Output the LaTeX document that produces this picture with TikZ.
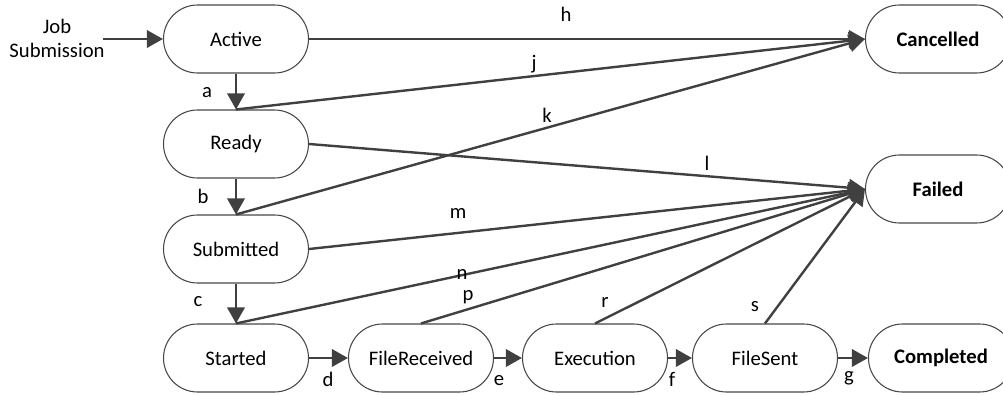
\documentclass[tikz,border=0pt]{standalone}
\usepackage{fontspec}
\setmainfont{Carlito}
\usetikzlibrary{arrows.meta}

\tikzset{
  stato/.style={draw=black!72, line width=0.8pt, rectangle, rounded corners=25.5pt,
    minimum width=108.75pt, minimum height=51pt, font=\fontsize{15.5}{18}\selectfont},
  finale/.style={stato, font=\fontsize{15.5}{18}\selectfont\bfseries},
  freccia/.style={draw=black!75, line width=1.8pt, -{Triangle[length=12pt,width=13pt]}},
  lbl/.style={inner sep=0pt, font=\fontsize{15.5}{18}\selectfont}
}

\begin{document}
\begin{tikzpicture}[x=0.75pt, y=-0.75pt]
    \useasboundingbox (0,0) rectangle (1003,396);

    % Stati
    \node[stato] (Active) at (236,39) {Active};
    \node[stato] (Ready) at (236,144) {Ready};
    \node[stato] (Submitted) at (236,249) {Submitted};
    \node[stato] (Started) at (236,358) {Started};
    \node[stato] (FileReceived) at (421,358) {FileReceived};
    \node[stato] (Execution) at (595,358) {Execution};
    \node[stato] (FileSent) at (765,358) {FileSent};

    % Stati finali
    \node[finale] (Cancelled) at (938,39) {Cancelled};
    \node[finale] (Failed) at (938,189) {Failed};
    \node[finale] (Completed) at (941,358) {Completed};

    % Ingresso
    \node[lbl, align=center] (job) at (57,38) {Job\\Submission};
    \coordinate (in) at (103,39);
    \draw[freccia] (in) -- (Active);

    % Percorso principale
    \draw[freccia] (Active) -- (Ready);
    \draw[freccia] (Ready) -- (Submitted);
    \draw[freccia] (Submitted) -- (Started);
    \draw[freccia] (Started) -- (FileReceived);
    \draw[freccia] (FileReceived) -- (Execution);
    \draw[freccia] (Execution) -- (FileSent);
    \draw[freccia] (FileSent) -- (Completed);

    % Verso Cancelled
    \draw[freccia] (Active.east) -- (Cancelled.west);
    \draw[freccia] (Ready.north) -- (Cancelled.west);
    \draw[freccia] (Submitted.north) -- (Cancelled.west);

    % Verso Failed
    \draw[freccia] (Ready.east) -- (Failed.west);
    \draw[freccia] (Submitted.east) -- (Failed.west);
    \draw[freccia] (Started.north) -- (Failed.west);
    \draw[freccia] (FileReceived.north) -- (Failed.west);
    \draw[freccia] (Execution.north) -- (Failed.west);
    \draw[freccia] (FileSent.north) -- (Failed.west);

    % Etichette
    \node[lbl] (la) at (207,93) {a};
    \node[lbl] (lb) at (203,196) {b};
    \node[lbl] (lc) at (198,302) {c};
    \node[lbl] (ld) at (328,379) {d};
    \node[lbl] (le) at (499,381) {e};
    \node[lbl] (lf) at (672,379) {f};
    \node[lbl] (lg) at (849,378) {g};
    \node[lbl] (lh) at (566,14) {h};
    \node[lbl] (lj) at (534,64) {j};
    \node[lbl] (lk) at (547,115) {k};
    \node[lbl] (ll) at (707,163) {l};
    \node[lbl] (lm) at (458,213) {m};
    \node[lbl] (ln) at (462,274) {n};
    \node[lbl] (lp) at (468,297) {p};
    \node[lbl] (lr) at (605,302) {r};
    \node[lbl] (ls) at (755,307) {s};
\end{tikzpicture}
\end{document}
